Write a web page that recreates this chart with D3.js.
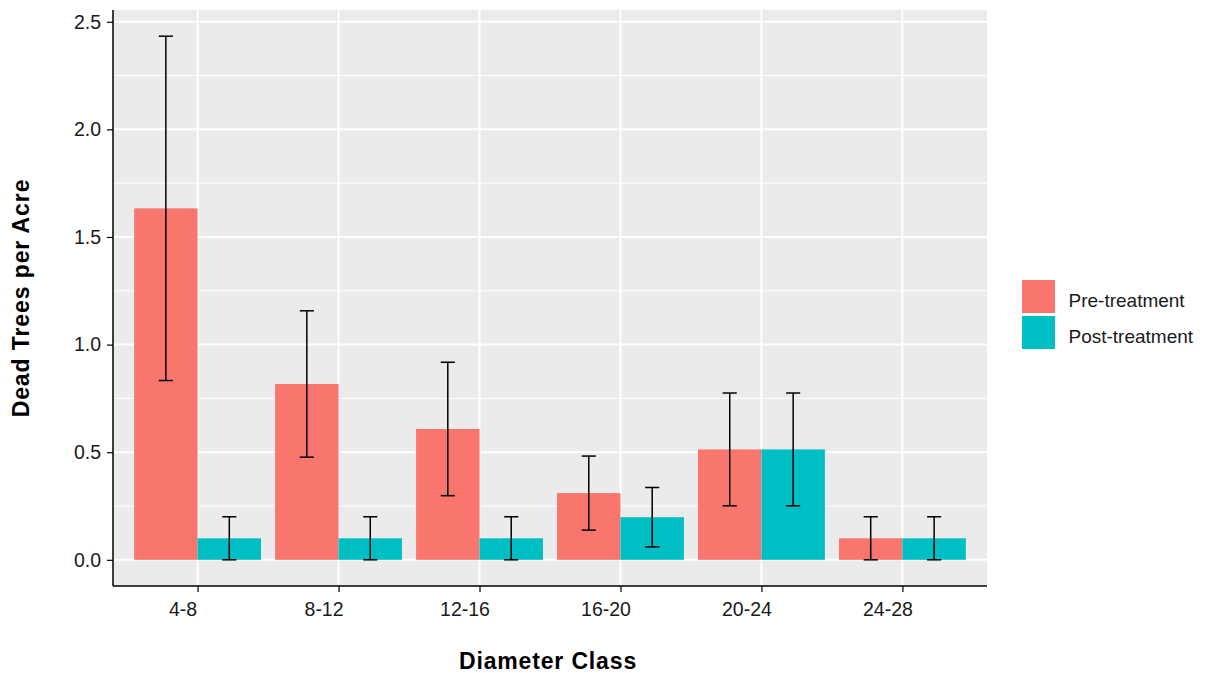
<!DOCTYPE html>
<html>
<head>
<meta charset="utf-8">
<script src="https://cdn.jsdelivr.net/npm/d3@7"></script>
<style>
  html, body { margin: 0; padding: 0; background: #ffffff; }
  svg { display: block; font-family: Arial, "Liberation Sans", sans-serif; }
</style>
</head>
<body>
<svg id="chart" width="1205" height="673"></svg>
<script>
// Diameter classes and group labels
const categories = ["4-8", "8-12", "12-16", "16-20", "20-24", "24-28"];
const groups = ["Pre-treatment", "Post-treatment"];

// Mean dead trees per acre and standard errors
const preMeans  = [1.633, 0.817, 0.608, 0.310, 0.513, 0.100];
const preErrors = [0.800, 0.340, 0.310, 0.172, 0.262, 0.100];
const postMeans  = [0.100, 0.100, 0.100, 0.198, 0.513, 0.100];
const postErrors = [0.100, 0.100, 0.100, 0.138, 0.262, 0.100];

const yTicks = [0, 0.5, 1.0, 1.5, 2.0, 2.5];
const yMinor = [0.25, 0.75, 1.25, 1.75, 2.25];

const colors = { "Pre-treatment": "#F8766D", "Post-treatment": "#00BFC4" };

const rows = [];
categories.forEach((c, i) => {
  rows.push({ cat: c, group: groups[0], mean: preMeans[i], se: preErrors[i] });
  rows.push({ cat: c, group: groups[1], mean: postMeans[i], se: postErrors[i] });
});

const svg = d3.select("#chart");
const panel = { left: 113, right: 987, top: 10, bottom: 586 };
const font = "Arial, 'Liberation Sans', sans-serif";

// Continuous y with 5% padding on the data range
const dataMax = d3.max(rows, d => d.mean + d.se);
const pad = dataMax * 0.05;
const y = d3.scaleLinear()
  .domain([0 - pad, dataMax + pad])
  .range([panel.bottom, panel.top]);

// Discrete x: 0.6 category-widths of padding at either end
const xPos = d3.scaleLinear()
  .domain([0.4, categories.length + 0.6])
  .range([panel.left, panel.right]);
const unit = xPos(2) - xPos(1);
const dodge = 0.9;
const barW = dodge / groups.length;

// Panel background
svg.append("rect")
  .attr("x", panel.left).attr("y", panel.top)
  .attr("width", panel.right - panel.left)
  .attr("height", panel.bottom - panel.top)
  .attr("fill", "#EBEBEB");

// Grid lines
const grid = svg.append("g");
grid.selectAll(".minor").data(yMinor).join("line")
  .attr("x1", panel.left).attr("x2", panel.right)
  .attr("y1", d => y(d)).attr("y2", d => y(d))
  .attr("stroke", "#ffffff").attr("stroke-width", 1);
grid.selectAll(".major").data(yTicks).join("line")
  .attr("x1", panel.left).attr("x2", panel.right)
  .attr("y1", d => y(d)).attr("y2", d => y(d))
  .attr("stroke", "#ffffff").attr("stroke-width", 2);
grid.selectAll(".vmajor").data(categories).join("line")
  .attr("x1", (d, i) => xPos(i + 1)).attr("x2", (d, i) => xPos(i + 1))
  .attr("y1", panel.top).attr("y2", panel.bottom)
  .attr("stroke", "#ffffff").attr("stroke-width", 2);

// Bars
const xOf = d => {
  const i = categories.indexOf(d.cat);
  const g = groups.indexOf(d.group);
  return i + 1 - dodge / 2 + g * barW;
};
svg.append("g").selectAll("rect").data(rows).join("rect")
  .attr("x", d => xPos(xOf(d)))
  .attr("width", barW * unit)
  .attr("y", d => y(d.mean))
  .attr("height", d => y(0) - y(d.mean))
  .attr("fill", d => colors[d.group]);

// Error bars
const capHalf = 0.05;
const eb = svg.append("g").attr("stroke", "#000000").attr("stroke-width", 1.5).attr("fill", "none");
rows.forEach(d => {
  const cx = xOf(d) + barW / 2;
  const lo = Math.max(0, d.mean - d.se), hi = d.mean + d.se;
  eb.append("line").attr("x1", xPos(cx)).attr("x2", xPos(cx))
    .attr("y1", y(lo)).attr("y2", y(hi));
  eb.append("line").attr("x1", xPos(cx - capHalf)).attr("x2", xPos(cx + capHalf))
    .attr("y1", y(hi)).attr("y2", y(hi));
  eb.append("line").attr("x1", xPos(cx - capHalf)).attr("x2", xPos(cx + capHalf))
    .attr("y1", y(lo)).attr("y2", y(lo));
});

// Axes
const yAxis = d3.axisLeft(y).tickValues(yTicks).tickFormat(d3.format(".1f")).tickSize(6).tickPadding(6);
const gy = svg.append("g").attr("transform", `translate(${panel.left},0)`).call(yAxis);
gy.select(".domain").remove();
gy.append("line").attr("x1", 0).attr("x2", 0).attr("y1", panel.top).attr("y2", panel.bottom)
  .attr("stroke", "#000").attr("stroke-width", 1.5);

const xBand = d3.scaleOrdinal().domain(categories).range(categories.map((c, i) => xPos(i + 1)));
const xAxis = d3.axisBottom(xBand).tickSize(6).tickPadding(10);
const gx = svg.append("g").attr("transform", `translate(0,${panel.bottom})`).call(xAxis);
gx.select(".domain").remove();
gx.append("line").attr("x1", panel.left).attr("x2", panel.right).attr("y1", 0).attr("y2", 0)
  .attr("stroke", "#000").attr("stroke-width", 1.5);
// category labels sit slightly left of their ticks
gx.selectAll(".tick text").attr("x", -15);

[gx, gy].forEach(g => {
  g.selectAll(".tick line").attr("stroke", "#000").attr("stroke-width", 1.2);
  g.selectAll(".tick text").attr("fill", "#1a1a1a").style("font-size", "19.5px")
    .style("font-family", font);
});

// Axis titles
svg.append("text")
  .attr("x", 548).attr("y", 669)
  .attr("text-anchor", "middle")
  .style("font-size", "23px").style("font-weight", "bold").style("letter-spacing", "0.85px")
  .text("Diameter Class");
svg.append("text")
  .attr("transform", `translate(28.5,${(panel.top + panel.bottom) / 2}) rotate(-90)`)
  .attr("text-anchor", "middle")
  .style("font-size", "23px").style("font-weight", "bold").style("letter-spacing", "0.9px")
  .text("Dead Trees per Acre");

// Legend
const legend = svg.append("g").attr("transform", "translate(1022,280)");
groups.forEach((g, i) => {
  const row = legend.append("g").attr("transform", `translate(0,${i * 36})`);
  row.append("rect").attr("width", 33).attr("height", 33).attr("fill", colors[g]);
  row.append("text").attr("x", 46.5).attr("y", 27)
    .style("font-size", "19px").attr("fill", "#1a1a1a").text(g);
});
</script>
</body>
</html>
